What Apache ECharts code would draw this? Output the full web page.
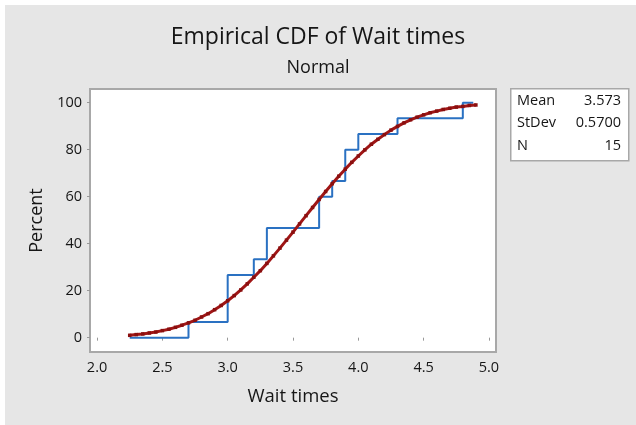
<!DOCTYPE html>
<html><head><meta charset="utf-8">
<script src="https://cdn.jsdelivr.net/npm/echarts@6/dist/echarts.min.js"></script>
<style>html,body{margin:0;padding:0;background:#fff;}#c{width:636px;height:425px;}</style>
</head><body><div id="c"></div>
<script>
// ECDF step
const stepX   = [2.25, 2.7, 3.0, 3.2, 3.3, 3.7, 3.8, 3.9, 4.0, 4.3, 4.8, 4.88];
const stepPct = [0, 6.67, 26.67, 33.33, 46.67, 60, 66.67, 80, 86.67, 93.33, 100, 100];
// Fitted normal CDF
const fitX = [2.25,2.30,2.35,2.40,2.45,2.50,2.55,2.60,2.65,2.70,2.75,2.80,2.85,2.90,2.95,3.00,3.05,3.10,3.15,3.20,3.25,3.30,3.35,3.40,3.45,3.50,3.55,3.60,3.65,3.70,3.75,3.80,3.85,3.90,3.95,4.00,4.05,4.10,4.15,4.20,4.25,4.30,4.35,4.40,4.45,4.50,4.55,4.60,4.65,4.70,4.75,4.80,4.85,4.90];
const fitPct = [1.0,1.3,1.6,2.0,2.4,3.0,3.6,4.4,5.3,6.3,7.4,8.8,10.2,11.9,13.7,15.7,17.9,20.3,22.9,25.7,28.5,31.6,34.8,38.1,41.5,44.9,48.4,51.9,55.4,58.8,62.2,65.5,68.7,71.7,74.6,77.3,79.9,82.3,84.4,86.4,88.3,89.9,91.4,92.7,93.8,94.8,95.7,96.4,97.1,97.6,98.1,98.4,98.8,99.0];
// Tick labels
const xTicks = [2.0, 2.5, 3.0, 3.5, 4.0, 4.5, 5.0];
const yTicks = [0, 20, 40, 60, 80, 100];
// Stats box
const statLabels = ['Mean', 'StDev', 'N'];
const statValues = ['3.573', '0.5700', '15'];

const FONT = '"Open Sans", "Noto Sans", sans-serif';
const INK = '#161616';
const chart = echarts.init(document.getElementById('c'), null, {renderer: 'canvas'});

const statTexts = [];
statLabels.forEach((l, i) => {
  statTexts.push({type: 'text', left: 517, top: 93 + i * 22.5,
    style: {text: l, font: '14.5px ' + FONT, fill: INK}});
  statTexts.push({type: 'text', right: 15, top: 93 + i * 22.5,
    style: {text: statValues[i], font: '14.5px ' + FONT, fill: INK, textAlign: 'right'}});
});

chart.setOption({
  backgroundColor: '#e6e6e6',
  animation: false,
  title: [
    {text: 'Empirical CDF of Wait times', left: 'center', top: 21,
     textStyle: {fontFamily: FONT, fontSize: 23, fontWeight: 'normal', color: INK}},
    {text: 'Normal', left: 'center', top: 54,
     textStyle: {fontFamily: FONT, fontSize: 18, fontWeight: 'normal', color: INK}}
  ],
  grid: {left: 90, top: 89, right: 140, bottom: 73, show: true,
         backgroundColor: '#fff', borderColor: '#a8a8a8', borderWidth: 2},
  xAxis: {
    type: 'value', min: 1.946, max: 5.054,
    name: 'Wait times', nameLocation: 'middle', nameGap: 35,
    nameTextStyle: {fontFamily: FONT, fontSize: 18.5, color: INK},
    axisLine: {show: false},
    axisTick: {show: true, inside: false, length: 3, customValues: xTicks, lineStyle: {color: '#999'}},
    axisLabel: {customValues: xTicks, formatter: v => v.toFixed(1), margin: 8,
      fontFamily: FONT, fontSize: 14.5, color: INK},
    splitLine: {show: false}
  },
  yAxis: {
    type: 'value', min: -6.1, max: 105.8,
    name: 'Percent', nameLocation: 'middle', nameGap: 44, nameRotate: 90,
    nameTextStyle: {fontFamily: FONT, fontSize: 18, color: INK},
    axisLine: {show: false},
    axisTick: {show: true, inside: false, length: 3, customValues: yTicks, lineStyle: {color: '#999'}},
    axisLabel: {customValues: yTicks, margin: 8, fontFamily: FONT, fontSize: 14.5, color: INK},
    splitLine: {show: false}
  },
  series: [
    {type: 'line', step: 'end', data: stepX.map((x, i) => [x, stepPct[i]]),
     showSymbol: false, lineStyle: {color: '#2a71c2', width: 2}, z: 2},
    {type: 'line', data: fitX.map((x, i) => [x, fitPct[i]]),
     symbol: 'rect', symbolSize: 3.5, showSymbol: true,
     itemStyle: {color: '#8a0f0f'},
     lineStyle: {color: '#a01616', width: 3}, z: 3}
  ],
  graphic: [
    {type: 'rect', left: 0, top: 0, shape: {width: 636, height: 5}, style: {fill: '#fff'}},
    {type: 'rect', left: 0, top: 0, shape: {width: 5, height: 425}, style: {fill: '#fff'}},
    {type: 'rect', left: 510, top: 88, shape: {width: 118, height: 72},
     style: {fill: '#fff', stroke: '#a8a8a8', lineWidth: 1.5}},
    ...statTexts
  ]
});
</script></body></html>
